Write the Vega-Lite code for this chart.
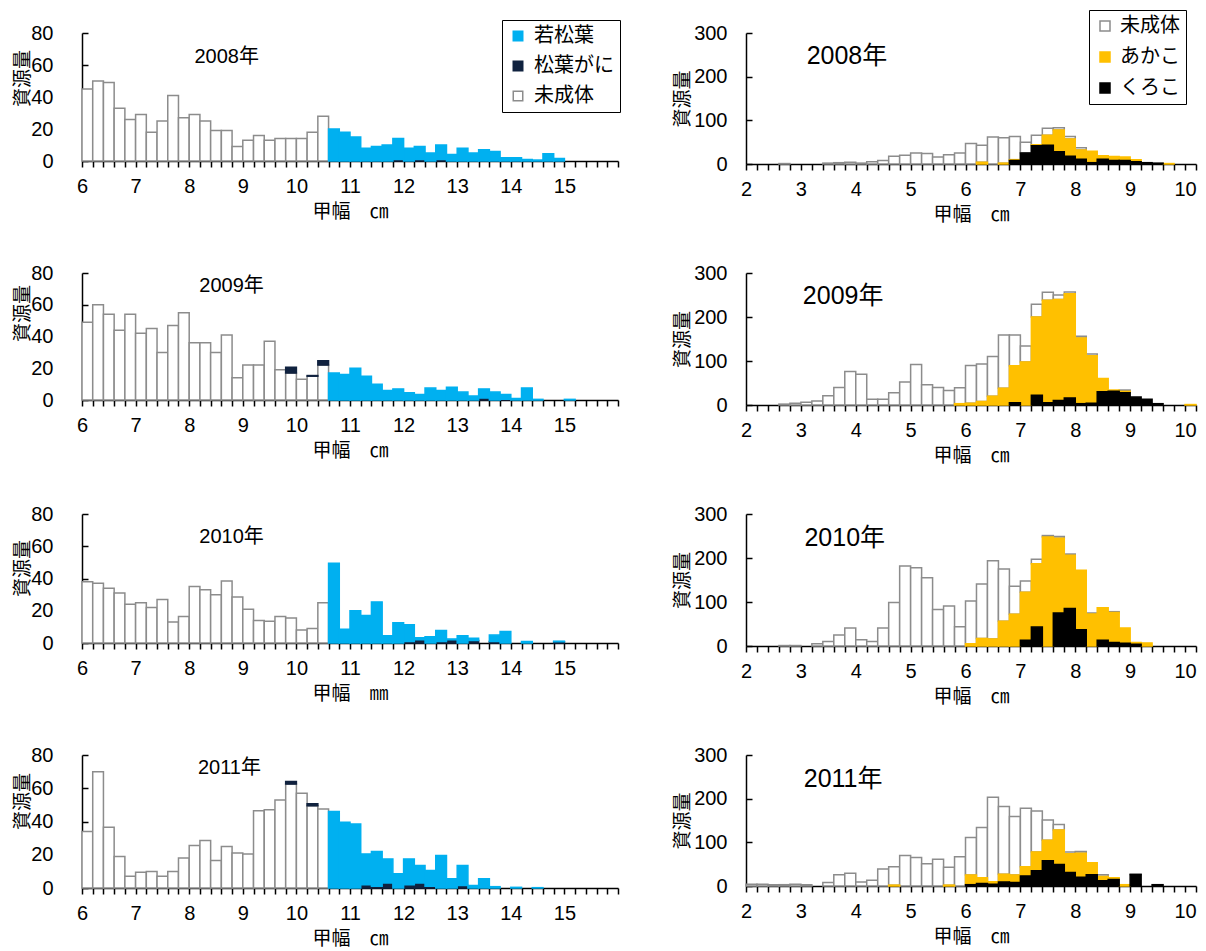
{
"$schema": "https://vega.github.io/schema/vega-lite/v6.json",
"padding": {"left": 13, "top": 9, "right": 5, "bottom": 5},
"background": "white",
"config": {
 "view": {"stroke": null},
 "axis": {"grid": false, "domainColor": "#000", "tickColor": "#000", "domainWidth": 1.5, "tickWidth": 1.5,
  "labelFont": "Liberation Sans, Arial, sans-serif", "labelFontSize": 20, "labelColor": "#000",
  "titleFont": "Noto Sans CJK JP", "titleFontSize": 19, "titleFontWeight": "normal", "titleColor": "#000"},
 "text": {"font": "Liberation Sans, Noto Sans CJK JP, sans-serif", "color": "#000"}
},
"data": {"values": [
{"p":"L8","c":"未成体","x":6,"v":45},{"p":"L8","c":"未成体","x":6.2,"v":50},{"p":"L8","c":"未成体","x":6.4,"v":49},{"p":"L8","c":"未成体","x":6.6,"v":33},{"p":"L8","c":"未成体","x":6.8,"v":26},{"p":"L8","c":"未成体","x":7,"v":29},{"p":"L8","c":"未成体","x":7.2,"v":18},{"p":"L8","c":"未成体","x":7.4,"v":25},{"p":"L8","c":"未成体","x":7.6,"v":41},{"p":"L8","c":"未成体","x":7.8,"v":27},{"p":"L8","c":"未成体","x":8,"v":29},{"p":"L8","c":"未成体","x":8.2,"v":25},{"p":"L8","c":"未成体","x":8.4,"v":19},{"p":"L8","c":"未成体","x":8.6,"v":19},{"p":"L8","c":"未成体","x":8.8,"v":9},{"p":"L8","c":"未成体","x":9,"v":13},{"p":"L8","c":"未成体","x":9.2,"v":16},{"p":"L8","c":"未成体","x":9.4,"v":13},{"p":"L8","c":"未成体","x":9.6,"v":14},{"p":"L8","c":"未成体","x":9.8,"v":14},{"p":"L8","c":"未成体","x":10,"v":14},{"p":"L8","c":"未成体","x":10.2,"v":18},{"p":"L8","c":"未成体","x":10.4,"v":28},
{"p":"L8","c":"松葉がに","x":11.8,"v":1},{"p":"L8","c":"松葉がに","x":12.2,"v":1},{"p":"L8","c":"松葉がに","x":12.6,"v":1},
{"p":"L8","c":"若松葉","x":10.6,"v":20},{"p":"L8","c":"若松葉","x":10.8,"v":18},{"p":"L8","c":"若松葉","x":11,"v":15},{"p":"L8","c":"若松葉","x":11.2,"v":8},{"p":"L8","c":"若松葉","x":11.4,"v":9},{"p":"L8","c":"若松葉","x":11.6,"v":10},{"p":"L8","c":"若松葉","x":11.8,"v":13},{"p":"L8","c":"若松葉","x":12,"v":8},{"p":"L8","c":"若松葉","x":12.2,"v":8},{"p":"L8","c":"若松葉","x":12.4,"v":5},{"p":"L8","c":"若松葉","x":12.6,"v":9},{"p":"L8","c":"若松葉","x":12.8,"v":4},{"p":"L8","c":"若松葉","x":13,"v":8},{"p":"L8","c":"若松葉","x":13.2,"v":5},{"p":"L8","c":"若松葉","x":13.4,"v":7},{"p":"L8","c":"若松葉","x":13.6,"v":6},{"p":"L8","c":"若松葉","x":13.8,"v":2},{"p":"L8","c":"若松葉","x":14,"v":2},{"p":"L8","c":"若松葉","x":14.2,"v":1},{"p":"L8","c":"若松葉","x":14.4,"v":0.6},{"p":"L8","c":"若松葉","x":14.6,"v":4.5},{"p":"L8","c":"若松葉","x":14.8,"v":1.6},
{"p":"L9","c":"未成体","x":6,"v":49},{"p":"L9","c":"未成体","x":6.2,"v":60},{"p":"L9","c":"未成体","x":6.4,"v":54},{"p":"L9","c":"未成体","x":6.6,"v":44},{"p":"L9","c":"未成体","x":6.8,"v":54},{"p":"L9","c":"未成体","x":7,"v":42},{"p":"L9","c":"未成体","x":7.2,"v":45},{"p":"L9","c":"未成体","x":7.4,"v":30},{"p":"L9","c":"未成体","x":7.6,"v":47},{"p":"L9","c":"未成体","x":7.8,"v":55},{"p":"L9","c":"未成体","x":8,"v":36},{"p":"L9","c":"未成体","x":8.2,"v":36},{"p":"L9","c":"未成体","x":8.4,"v":30},{"p":"L9","c":"未成体","x":8.6,"v":41},{"p":"L9","c":"未成体","x":8.8,"v":14},{"p":"L9","c":"未成体","x":9,"v":22},{"p":"L9","c":"未成体","x":9.2,"v":22},{"p":"L9","c":"未成体","x":9.4,"v":37},{"p":"L9","c":"未成体","x":9.6,"v":19},{"p":"L9","c":"未成体","x":9.8,"v":17},{"p":"L9","c":"未成体","x":10,"v":13},{"p":"L9","c":"未成体","x":10.2,"v":15},{"p":"L9","c":"未成体","x":10.4,"v":22},
{"p":"L9","c":"松葉がに","x":9.8,"v":3.7},{"p":"L9","c":"松葉がに","x":10.2,"v":0.4},{"p":"L9","c":"松葉がに","x":10.4,"v":2.7},{"p":"L9","c":"松葉がに","x":13.4,"v":1.2},{"p":"L9","c":"松葉がに","x":13.8,"v":0.5},
{"p":"L9","c":"若松葉","x":10.6,"v":17},{"p":"L9","c":"若松葉","x":10.8,"v":16},{"p":"L9","c":"若松葉","x":11,"v":20},{"p":"L9","c":"若松葉","x":11.2,"v":15},{"p":"L9","c":"若松葉","x":11.4,"v":10},{"p":"L9","c":"若松葉","x":11.6,"v":6},{"p":"L9","c":"若松葉","x":11.8,"v":7},{"p":"L9","c":"若松葉","x":12,"v":4.5},{"p":"L9","c":"若松葉","x":12.2,"v":3.5},{"p":"L9","c":"若松葉","x":12.4,"v":7.5},{"p":"L9","c":"若松葉","x":12.6,"v":6},{"p":"L9","c":"若松葉","x":12.8,"v":8},{"p":"L9","c":"若松葉","x":13,"v":5},{"p":"L9","c":"若松葉","x":13.2,"v":2.5},{"p":"L9","c":"若松葉","x":13.4,"v":5.8},{"p":"L9","c":"若松葉","x":13.6,"v":5},{"p":"L9","c":"若松葉","x":13.8,"v":3},{"p":"L9","c":"若松葉","x":14,"v":1},{"p":"L9","c":"若松葉","x":14.2,"v":7.6},{"p":"L9","c":"若松葉","x":14.4,"v":0.4},{"p":"L9","c":"若松葉","x":15,"v":0.4},
{"p":"L10","c":"未成体","x":6,"v":38},{"p":"L10","c":"未成体","x":6.2,"v":37},{"p":"L10","c":"未成体","x":6.4,"v":34},{"p":"L10","c":"未成体","x":6.6,"v":31},{"p":"L10","c":"未成体","x":6.8,"v":24},{"p":"L10","c":"未成体","x":7,"v":25},{"p":"L10","c":"未成体","x":7.2,"v":22},{"p":"L10","c":"未成体","x":7.4,"v":27},{"p":"L10","c":"未成体","x":7.6,"v":13},{"p":"L10","c":"未成体","x":7.8,"v":16.5},{"p":"L10","c":"未成体","x":8,"v":35},{"p":"L10","c":"未成体","x":8.2,"v":33},{"p":"L10","c":"未成体","x":8.4,"v":30},{"p":"L10","c":"未成体","x":8.6,"v":38.5},{"p":"L10","c":"未成体","x":8.8,"v":28.5},{"p":"L10","c":"未成体","x":9,"v":21},{"p":"L10","c":"未成体","x":9.2,"v":14},{"p":"L10","c":"未成体","x":9.4,"v":13.5},{"p":"L10","c":"未成体","x":9.6,"v":16.5},{"p":"L10","c":"未成体","x":9.8,"v":15.5},{"p":"L10","c":"未成体","x":10,"v":8},{"p":"L10","c":"未成体","x":10.2,"v":9},{"p":"L10","c":"未成体","x":10.4,"v":25},
{"p":"L10","c":"松葉がに","x":12,"v":1},{"p":"L10","c":"松葉がに","x":12.2,"v":2},{"p":"L10","c":"松葉がに","x":12.6,"v":1},{"p":"L10","c":"松葉がに","x":12.8,"v":2},{"p":"L10","c":"松葉がに","x":13.2,"v":1.5},{"p":"L10","c":"松葉がに","x":13.6,"v":1},{"p":"L10","c":"松葉がに","x":14.8,"v":0.8},
{"p":"L10","c":"若松葉","x":10.6,"v":49.5},{"p":"L10","c":"若松葉","x":10.8,"v":8.5},{"p":"L10","c":"若松葉","x":11,"v":20},{"p":"L10","c":"若松葉","x":11.2,"v":17},{"p":"L10","c":"若松葉","x":11.4,"v":25.5},{"p":"L10","c":"若松葉","x":11.6,"v":4.5},{"p":"L10","c":"若松葉","x":11.8,"v":12.5},{"p":"L10","c":"若松葉","x":12,"v":10.3},{"p":"L10","c":"若松葉","x":12.2,"v":1.3},{"p":"L10","c":"若松葉","x":12.4,"v":3.9},{"p":"L10","c":"若松葉","x":12.6,"v":6.8},{"p":"L10","c":"若松葉","x":12.8,"v":0.5},{"p":"L10","c":"若松葉","x":13,"v":4.5},{"p":"L10","c":"若松葉","x":13.2,"v":1.4},{"p":"L10","c":"若松葉","x":13.6,"v":3.9},{"p":"L10","c":"若松葉","x":13.8,"v":7.2},{"p":"L10","c":"若松葉","x":14.2,"v":1},{"p":"L10","c":"若松葉","x":14.8,"v":0.3},
{"p":"L11","c":"未成体","x":6,"v":34},{"p":"L11","c":"未成体","x":6.2,"v":70},{"p":"L11","c":"未成体","x":6.4,"v":36.5},{"p":"L11","c":"未成体","x":6.6,"v":19},{"p":"L11","c":"未成体","x":6.8,"v":7},{"p":"L11","c":"未成体","x":7,"v":9.5},{"p":"L11","c":"未成体","x":7.2,"v":10},{"p":"L11","c":"未成体","x":7.4,"v":7},{"p":"L11","c":"未成体","x":7.6,"v":10},{"p":"L11","c":"未成体","x":7.8,"v":18},{"p":"L11","c":"未成体","x":8,"v":25.5},{"p":"L11","c":"未成体","x":8.2,"v":28.5},{"p":"L11","c":"未成体","x":8.4,"v":16.5},{"p":"L11","c":"未成体","x":8.6,"v":25},{"p":"L11","c":"未成体","x":8.8,"v":21},{"p":"L11","c":"未成体","x":9,"v":20.5},{"p":"L11","c":"未成体","x":9.2,"v":46.5},{"p":"L11","c":"未成体","x":9.4,"v":47},{"p":"L11","c":"未成体","x":9.6,"v":53},{"p":"L11","c":"未成体","x":9.8,"v":62.5},{"p":"L11","c":"未成体","x":10,"v":57},{"p":"L11","c":"未成体","x":10.2,"v":49.5},{"p":"L11","c":"未成体","x":10.4,"v":47.5},
{"p":"L11","c":"松葉がに","x":9.8,"v":1.5},{"p":"L11","c":"松葉がに","x":10.2,"v":1.2},{"p":"L11","c":"松葉がに","x":11.2,"v":2},{"p":"L11","c":"松葉がに","x":11.4,"v":1},{"p":"L11","c":"松葉がに","x":11.6,"v":3},{"p":"L11","c":"松葉がに","x":12,"v":2},{"p":"L11","c":"松葉がに","x":12.2,"v":3},{"p":"L11","c":"松葉がに","x":12.4,"v":1},{"p":"L11","c":"松葉がに","x":13,"v":1.5},
{"p":"L11","c":"若松葉","x":10.6,"v":46},{"p":"L11","c":"若松葉","x":10.8,"v":39.5},{"p":"L11","c":"若松葉","x":11,"v":38.5},{"p":"L11","c":"若松葉","x":11.2,"v":18.5},{"p":"L11","c":"若松葉","x":11.4,"v":21},{"p":"L11","c":"若松葉","x":11.6,"v":14.5},{"p":"L11","c":"若松葉","x":11.8,"v":8.5},{"p":"L11","c":"若松葉","x":12,"v":15.5},{"p":"L11","c":"若松葉","x":12.2,"v":10.5},{"p":"L11","c":"若松葉","x":12.4,"v":9.5},{"p":"L11","c":"若松葉","x":12.6,"v":19.5},{"p":"L11","c":"若松葉","x":12.8,"v":5.5},{"p":"L11","c":"若松葉","x":13,"v":12},{"p":"L11","c":"若松葉","x":13.2,"v":1.5},{"p":"L11","c":"若松葉","x":13.4,"v":5.5},{"p":"L11","c":"若松葉","x":13.6,"v":0.8},{"p":"L11","c":"若松葉","x":14,"v":0.4},{"p":"L11","c":"若松葉","x":14.4,"v":0.2},
{"p":"R8","c":"未成体","x":2.6,"v":1},{"p":"R8","c":"未成体","x":3.4,"v":2},{"p":"R8","c":"未成体","x":3.6,"v":3},{"p":"R8","c":"未成体","x":3.8,"v":4},{"p":"R8","c":"未成体","x":4,"v":2},{"p":"R8","c":"未成体","x":4.2,"v":5},{"p":"R8","c":"未成体","x":4.4,"v":8},{"p":"R8","c":"未成体","x":4.6,"v":18},{"p":"R8","c":"未成体","x":4.8,"v":20},{"p":"R8","c":"未成体","x":5,"v":25},{"p":"R8","c":"未成体","x":5.2,"v":24},{"p":"R8","c":"未成体","x":5.4,"v":16},{"p":"R8","c":"未成体","x":5.6,"v":21},{"p":"R8","c":"未成体","x":5.8,"v":25},{"p":"R8","c":"未成体","x":6,"v":47},{"p":"R8","c":"未成体","x":6.2,"v":39},{"p":"R8","c":"未成体","x":6.4,"v":62},{"p":"R8","c":"未成体","x":6.6,"v":58},{"p":"R8","c":"未成体","x":6.8,"v":53},{"p":"R8","c":"未成体","x":7,"v":25},{"p":"R8","c":"未成体","x":7.2,"v":22},{"p":"R8","c":"未成体","x":7.4,"v":16},{"p":"R8","c":"未成体","x":7.6,"v":5},{"p":"R8","c":"未成体","x":7.8,"v":6},{"p":"R8","c":"未成体","x":8,"v":5},
{"p":"R8","c":"あかこ","x":6.2,"v":4},{"p":"R8","c":"あかこ","x":6.6,"v":2},{"p":"R8","c":"あかこ","x":6.8,"v":2},{"p":"R8","c":"あかこ","x":7.2,"v":2},{"p":"R8","c":"あかこ","x":7.4,"v":23},{"p":"R8","c":"あかこ","x":7.6,"v":50},{"p":"R8","c":"あかこ","x":7.8,"v":39},{"p":"R8","c":"あかこ","x":8,"v":21},{"p":"R8","c":"あかこ","x":8.2,"v":26},{"p":"R8","c":"あかこ","x":8.4,"v":8},{"p":"R8","c":"あかこ","x":8.6,"v":9},{"p":"R8","c":"あかこ","x":8.8,"v":8},{"p":"R8","c":"あかこ","x":9,"v":5},{"p":"R8","c":"あかこ","x":9.6,"v":1},
{"p":"R8","c":"くろこ","x":6.8,"v":8},{"p":"R8","c":"くろこ","x":7,"v":25},{"p":"R8","c":"くろこ","x":7.2,"v":42},{"p":"R8","c":"くろこ","x":7.4,"v":43},{"p":"R8","c":"くろこ","x":7.6,"v":28},{"p":"R8","c":"くろこ","x":7.8,"v":18},{"p":"R8","c":"くろこ","x":8,"v":11},{"p":"R8","c":"くろこ","x":8.2,"v":3},{"p":"R8","c":"くろこ","x":8.4,"v":11},{"p":"R8","c":"くろこ","x":8.6,"v":8},{"p":"R8","c":"くろこ","x":8.8,"v":8},{"p":"R8","c":"くろこ","x":9,"v":5},{"p":"R8","c":"くろこ","x":9.2,"v":3},{"p":"R8","c":"くろこ","x":9.4,"v":2},
{"p":"R9","c":"未成体","x":2.6,"v":2},{"p":"R9","c":"未成体","x":2.8,"v":4},{"p":"R9","c":"未成体","x":3,"v":6},{"p":"R9","c":"未成体","x":3.2,"v":9},{"p":"R9","c":"未成体","x":3.4,"v":21},{"p":"R9","c":"未成体","x":3.6,"v":40},{"p":"R9","c":"未成体","x":3.8,"v":76},{"p":"R9","c":"未成体","x":4,"v":70},{"p":"R9","c":"未成体","x":4.2,"v":13},{"p":"R9","c":"未成体","x":4.4,"v":13},{"p":"R9","c":"未成体","x":4.6,"v":28},{"p":"R9","c":"未成体","x":4.8,"v":52},{"p":"R9","c":"未成体","x":5,"v":92},{"p":"R9","c":"未成体","x":5.2,"v":46},{"p":"R9","c":"未成体","x":5.4,"v":40},{"p":"R9","c":"未成体","x":5.6,"v":33},{"p":"R9","c":"未成体","x":5.8,"v":36},{"p":"R9","c":"未成体","x":6,"v":86},{"p":"R9","c":"未成体","x":6.2,"v":85},{"p":"R9","c":"未成体","x":6.4,"v":90},{"p":"R9","c":"未成体","x":6.6,"v":121},{"p":"R9","c":"未成体","x":6.8,"v":70},{"p":"R9","c":"未成体","x":7,"v":36},{"p":"R9","c":"未成体","x":7.2,"v":29},{"p":"R9","c":"未成体","x":7.4,"v":18},{"p":"R9","c":"未成体","x":7.6,"v":10},{"p":"R9","c":"未成体","x":7.8,"v":4},{"p":"R9","c":"未成体","x":8,"v":4},{"p":"R9","c":"未成体","x":8.2,"v":4},{"p":"R9","c":"未成体","x":8.8,"v":3},
{"p":"R9","c":"あかこ","x":5.8,"v":3},{"p":"R9","c":"あかこ","x":6,"v":4},{"p":"R9","c":"あかこ","x":6.2,"v":8},{"p":"R9","c":"あかこ","x":6.4,"v":20},{"p":"R9","c":"あかこ","x":6.6,"v":38},{"p":"R9","c":"あかこ","x":6.8,"v":84},{"p":"R9","c":"あかこ","x":7,"v":98},{"p":"R9","c":"あかこ","x":7.2,"v":178},{"p":"R9","c":"あかこ","x":7.4,"v":233},{"p":"R9","c":"あかこ","x":7.6,"v":230},{"p":"R9","c":"あかこ","x":7.8,"v":237},{"p":"R9","c":"あかこ","x":8,"v":149},{"p":"R9","c":"あかこ","x":8.2,"v":108},{"p":"R9","c":"あかこ","x":8.4,"v":30},{"p":"R9","c":"あかこ","x":8.6,"v":3},{"p":"R9","c":"あかこ","x":8.8,"v":3},{"p":"R9","c":"あかこ","x":10,"v":1},
{"p":"R9","c":"くろこ","x":6.8,"v":5},{"p":"R9","c":"くろこ","x":7.2,"v":22},{"p":"R9","c":"くろこ","x":7.4,"v":5},{"p":"R9","c":"くろこ","x":7.6,"v":10},{"p":"R9","c":"くろこ","x":7.8,"v":16},{"p":"R9","c":"くろこ","x":8,"v":3},{"p":"R9","c":"くろこ","x":8.2,"v":4},{"p":"R9","c":"くろこ","x":8.4,"v":30},{"p":"R9","c":"くろこ","x":8.6,"v":31},{"p":"R9","c":"くろこ","x":8.8,"v":28},{"p":"R9","c":"くろこ","x":9,"v":18},{"p":"R9","c":"くろこ","x":9.2,"v":13},{"p":"R9","c":"くろこ","x":9.4,"v":3},
{"p":"R10","c":"未成体","x":2.6,"v":1},{"p":"R10","c":"未成体","x":2.8,"v":1},{"p":"R10","c":"未成体","x":3.2,"v":5},{"p":"R10","c":"未成体","x":3.4,"v":10},{"p":"R10","c":"未成体","x":3.6,"v":25},{"p":"R10","c":"未成体","x":3.8,"v":41},{"p":"R10","c":"未成体","x":4,"v":14},{"p":"R10","c":"未成体","x":4.2,"v":10},{"p":"R10","c":"未成体","x":4.4,"v":41},{"p":"R10","c":"未成体","x":4.6,"v":99},{"p":"R10","c":"未成体","x":4.8,"v":182},{"p":"R10","c":"未成体","x":5,"v":178},{"p":"R10","c":"未成体","x":5.2,"v":155},{"p":"R10","c":"未成体","x":5.4,"v":83},{"p":"R10","c":"未成体","x":5.6,"v":91},{"p":"R10","c":"未成体","x":5.8,"v":44},{"p":"R10","c":"未成体","x":6,"v":97},{"p":"R10","c":"未成体","x":6.2,"v":124},{"p":"R10","c":"未成体","x":6.4,"v":178},{"p":"R10","c":"未成体","x":6.6,"v":119},{"p":"R10","c":"未成体","x":6.8,"v":64},{"p":"R10","c":"未成体","x":7,"v":26},{"p":"R10","c":"未成体","x":7.2,"v":10},{"p":"R10","c":"未成体","x":7.4,"v":3},{"p":"R10","c":"未成体","x":7.6,"v":4},{"p":"R10","c":"未成体","x":7.8,"v":3},{"p":"R10","c":"未成体","x":8.2,"v":2},{"p":"R10","c":"未成体","x":8.6,"v":2},
{"p":"R10","c":"あかこ","x":6,"v":5},{"p":"R10","c":"あかこ","x":6.2,"v":17},{"p":"R10","c":"あかこ","x":6.4,"v":16},{"p":"R10","c":"あかこ","x":6.6,"v":56},{"p":"R10","c":"あかこ","x":6.8,"v":72},{"p":"R10","c":"あかこ","x":7,"v":109},{"p":"R10","c":"あかこ","x":7.2,"v":144},{"p":"R10","c":"あかこ","x":7.4,"v":248},{"p":"R10","c":"あかこ","x":7.6,"v":170},{"p":"R10","c":"あかこ","x":7.8,"v":121},{"p":"R10","c":"あかこ","x":8,"v":135},{"p":"R10","c":"あかこ","x":8.2,"v":73},{"p":"R10","c":"あかこ","x":8.4,"v":74},{"p":"R10","c":"あかこ","x":8.6,"v":68},{"p":"R10","c":"あかこ","x":8.8,"v":35},{"p":"R10","c":"あかこ","x":9,"v":4},{"p":"R10","c":"あかこ","x":9.2,"v":7},
{"p":"R10","c":"くろこ","x":7,"v":13},{"p":"R10","c":"くろこ","x":7.2,"v":43},{"p":"R10","c":"くろこ","x":7.6,"v":75},{"p":"R10","c":"くろこ","x":7.8,"v":85},{"p":"R10","c":"くろこ","x":8,"v":37},{"p":"R10","c":"くろこ","x":8.4,"v":13},{"p":"R10","c":"くろこ","x":8.6,"v":8},{"p":"R10","c":"くろこ","x":8.8,"v":6},{"p":"R10","c":"くろこ","x":9,"v":4},
{"p":"R11","c":"未成体","x":2,"v":4},{"p":"R11","c":"未成体","x":2.2,"v":4},{"p":"R11","c":"未成体","x":2.4,"v":3},{"p":"R11","c":"未成体","x":2.6,"v":3},{"p":"R11","c":"未成体","x":2.8,"v":4},{"p":"R11","c":"未成体","x":3,"v":3},{"p":"R11","c":"未成体","x":3.4,"v":8},{"p":"R11","c":"未成体","x":3.6,"v":26},{"p":"R11","c":"未成体","x":3.8,"v":29},{"p":"R11","c":"未成体","x":4,"v":9},{"p":"R11","c":"未成体","x":4.2,"v":13},{"p":"R11","c":"未成体","x":4.4,"v":39},{"p":"R11","c":"未成体","x":4.6,"v":42},{"p":"R11","c":"未成体","x":4.8,"v":70},{"p":"R11","c":"未成体","x":5,"v":65},{"p":"R11","c":"未成体","x":5.2,"v":51},{"p":"R11","c":"未成体","x":5.4,"v":61},{"p":"R11","c":"未成体","x":5.6,"v":41},{"p":"R11","c":"未成体","x":5.8,"v":67},{"p":"R11","c":"未成体","x":6,"v":86},{"p":"R11","c":"未成体","x":6.2,"v":115},{"p":"R11","c":"未成体","x":6.4,"v":193},{"p":"R11","c":"未成体","x":6.6,"v":155},{"p":"R11","c":"未成体","x":6.8,"v":134},{"p":"R11","c":"未成体","x":7,"v":134},{"p":"R11","c":"未成体","x":7.2,"v":94},{"p":"R11","c":"未成体","x":7.4,"v":46},{"p":"R11","c":"未成体","x":7.6,"v":13},{"p":"R11","c":"未成体","x":7.8,"v":4},{"p":"R11","c":"未成体","x":8,"v":4},{"p":"R11","c":"未成体","x":8.4,"v":4},{"p":"R11","c":"未成体","x":9,"v":2},
{"p":"R11","c":"あかこ","x":4.6,"v":2},{"p":"R11","c":"あかこ","x":5.6,"v":2},{"p":"R11","c":"あかこ","x":6,"v":22},{"p":"R11","c":"あかこ","x":6.2,"v":13},{"p":"R11","c":"あかこ","x":6.4,"v":6},{"p":"R11","c":"あかこ","x":6.6,"v":18},{"p":"R11","c":"あかこ","x":6.8,"v":17},{"p":"R11","c":"あかこ","x":7,"v":21},{"p":"R11","c":"あかこ","x":7.2,"v":43},{"p":"R11","c":"あかこ","x":7.4,"v":47},{"p":"R11","c":"あかこ","x":7.6,"v":79},{"p":"R11","c":"あかこ","x":7.8,"v":43},{"p":"R11","c":"あかこ","x":8,"v":55},{"p":"R11","c":"あかこ","x":8.2,"v":27},{"p":"R11","c":"あかこ","x":8.4,"v":10},{"p":"R11","c":"あかこ","x":8.6,"v":4},{"p":"R11","c":"あかこ","x":8.8,"v":3},
{"p":"R11","c":"くろこ","x":6,"v":3},{"p":"R11","c":"くろこ","x":6.2,"v":6},{"p":"R11","c":"くろこ","x":6.4,"v":4},{"p":"R11","c":"くろこ","x":6.6,"v":9},{"p":"R11","c":"くろこ","x":6.8,"v":8},{"p":"R11","c":"くろこ","x":7,"v":23},{"p":"R11","c":"くろこ","x":7.2,"v":35},{"p":"R11","c":"くろこ","x":7.4,"v":58},{"p":"R11","c":"くろこ","x":7.6,"v":49},{"p":"R11","c":"くろこ","x":7.8,"v":31},{"p":"R11","c":"くろこ","x":8,"v":20},{"p":"R11","c":"くろこ","x":8.2,"v":26},{"p":"R11","c":"くろこ","x":8.4,"v":12},{"p":"R11","c":"くろこ","x":8.6,"v":15},{"p":"R11","c":"くろこ","x":9,"v":26},{"p":"R11","c":"くろこ","x":9.4,"v":3}
]},
"columns": 2,
"spacing": {"row": 109, "column": 128},
"bounds": "flush",
"resolve": {"scale": {"x": "independent", "y": "independent", "fill": "independent", "stroke": "independent"}},
"concat": [
{"width": 536, "height": 128,
 "encoding": {
  "x": {"type": "quantitative", "scale": {"domain": [6, 16], "nice": false, "zero": false}, "axis": {"values": [6,6.2,6.4,6.6,6.8,7,7.2,7.4,7.6,7.8,8,8.2,8.4,8.6,8.8,9,9.2,9.4,9.6,9.8,10,10.2,10.4,10.6,10.8,11,11.2,11.4,11.6,11.8,12,12.2,12.4,12.6,12.8,13,13.2,13.4,13.6,13.8,14,14.2,14.4,14.6,14.8,15,15.2,15.4,15.6,15.8,16], "labelExpr": "abs(datum.value - round(datum.value)) < 0.01 && datum.value < 15.5 ? format(datum.value, 'd') : ''", "labelDx": 5.36, "labelOverlap": false, "labelFlush": false, "labelBound": false, "tickSize": 6, "labelPadding": 9, "title": "甲幅　㎝", "titlePadding": 6}},
  "y": {"type": "quantitative", "scale": {"domain": [0, 80], "nice": false}, "axis": {"values": [0,20,40,60,80], "labelOverlap": false, "tickSize": -6, "labelPadding": 35, "title": "資源量", "titlePadding": -2, "titleY": 45}}
 },
 "layer": [
 {"transform": [{"filter": "datum.p === 'L8'"}, {"calculate": "indexof(['未成体','松葉がに','若松葉'], datum.c)", "as": "o"}, {"stack": "v", "groupby": ["x"], "sort": [{"field": "o", "order": "ascending"}], "as": ["y0", "y1"]}, {"calculate": "datum.x + 0.2", "as": "xe"}],
  "mark": {"type": "rect", "strokeWidth": 1.5},
  "encoding": {
   "x": {"field": "x"}, "x2": {"field": "xe"}, "y": {"field": "y1"}, "y2": {"field": "y0"},
   "fill": {"field": "c", "type": "nominal", "scale": {"domain": ["若松葉","松葉がに","未成体"], "range": ["#00B0F0","#10223F","#FFFFFF"]}, "legend": {"title": null, "orient": "none", "legendX": 420, "legendY": -13, "strokeColor": "#000", "fillColor": "#fff", "padding": 6, "symbolType": "square", "symbolSize": 90, "symbolStrokeWidth": 1.5, "labelFont": "Noto Sans CJK JP", "labelFontSize": 20, "labelColor": "#000", "rowPadding": 10, "labelOffset": 6, "labelLimit": 300}},
   "stroke": {"field": "c", "type": "nominal", "scale": {"domain": ["若松葉","松葉がに","未成体"], "range": ["#00B0F0","#10223F","#8C8C8C"]}, "legend": {"title": null, "orient": "none", "legendX": 420, "legendY": -13, "strokeColor": "#000", "fillColor": "#fff", "padding": 6, "symbolType": "square", "symbolSize": 90, "symbolStrokeWidth": 1.5, "labelFont": "Noto Sans CJK JP", "labelFontSize": 20, "labelColor": "#000", "rowPadding": 10, "labelOffset": 6, "labelLimit": 300}}
  }},
 {"data": {"values": [{"t": "2008年", "px": 8.7, "py": 65}]}, "mark": {"type": "text", "fontSize": 20}, "encoding": {"text": {"field": "t"}, "x": {"field": "px"}, "y": {"field": "py"}}}
]},
{"width": 450, "height": 131,
 "encoding": {
  "x": {"type": "quantitative", "scale": {"domain": [2, 10.2], "nice": false, "zero": false}, "axis": {"values": [2,2.2,2.4,2.6,2.8,3,3.2,3.4,3.6,3.8,4,4.2,4.4,4.6,4.8,5,5.2,5.4,5.6,5.8,6,6.2,6.4,6.6,6.8,7,7.2,7.4,7.6,7.8,8,8.2,8.4,8.6,8.8,9,9.2,9.4,9.6,9.8,10,10.2], "labelExpr": "abs(datum.value - round(datum.value)) < 0.01 && datum.value < 10.1 ? format(datum.value, 'd') : ''", "labelDx": 5.49, "labelOverlap": false, "labelFlush": false, "labelBound": false, "tickSize": 6, "labelPadding": 9, "title": "甲幅　㎝", "titlePadding": 6}},
  "y": {"type": "quantitative", "scale": {"domain": [0, 300], "nice": false}, "axis": {"values": [0,100,200,300], "labelOverlap": false, "tickSize": -6, "labelPadding": 25, "title": "資源量", "titlePadding": 1}}
 },
 "layer": [
 {"transform": [{"filter": "datum.p === 'R8'"}, {"calculate": "indexof(['くろこ','あかこ','未成体'], datum.c)", "as": "o"}, {"stack": "v", "groupby": ["x"], "sort": [{"field": "o", "order": "ascending"}], "as": ["y0", "y1"]}, {"calculate": "datum.x + 0.2", "as": "xe"}],
  "mark": {"type": "rect", "strokeWidth": 1.5},
  "encoding": {
   "x": {"field": "x"}, "x2": {"field": "xe"}, "y": {"field": "y1"}, "y2": {"field": "y0"},
   "fill": {"field": "c", "type": "nominal", "scale": {"domain": ["未成体","あかこ","くろこ"], "range": ["#FFFFFF","#FFC000","#000000"]}, "legend": {"title": null, "orient": "none", "legendX": 343, "legendY": -23, "strokeColor": "#000", "fillColor": "#fff", "padding": 6, "symbolType": "square", "symbolSize": 100, "symbolStrokeWidth": 1.5, "labelFont": "Noto Sans CJK JP", "labelFontSize": 20, "labelColor": "#000", "rowPadding": 11, "labelOffset": 5, "labelLimit": 300}},
   "stroke": {"field": "c", "type": "nominal", "scale": {"domain": ["未成体","あかこ","くろこ"], "range": ["#8C8C8C","#FFC000","#000000"]}, "legend": {"title": null, "orient": "none", "legendX": 343, "legendY": -23, "strokeColor": "#000", "fillColor": "#fff", "padding": 6, "symbolType": "square", "symbolSize": 100, "symbolStrokeWidth": 1.5, "labelFont": "Noto Sans CJK JP", "labelFontSize": 20, "labelColor": "#000", "rowPadding": 11, "labelOffset": 5, "labelLimit": 300}}
  }},
 {"data": {"values": [{"t": "2008年", "px": 3.84, "py": 247}]}, "mark": {"type": "text", "fontSize": 25}, "encoding": {"text": {"field": "t"}, "x": {"field": "px"}, "y": {"field": "py"}}}
]},
{"width": 536, "height": 127,
 "encoding": {
  "x": {"type": "quantitative", "scale": {"domain": [6, 16], "nice": false, "zero": false}, "axis": {"values": [6,6.2,6.4,6.6,6.8,7,7.2,7.4,7.6,7.8,8,8.2,8.4,8.6,8.8,9,9.2,9.4,9.6,9.8,10,10.2,10.4,10.6,10.8,11,11.2,11.4,11.6,11.8,12,12.2,12.4,12.6,12.8,13,13.2,13.4,13.6,13.8,14,14.2,14.4,14.6,14.8,15,15.2,15.4,15.6,15.8,16], "labelExpr": "abs(datum.value - round(datum.value)) < 0.01 && datum.value < 15.5 ? format(datum.value, 'd') : ''", "labelDx": 5.36, "labelOverlap": false, "labelFlush": false, "labelBound": false, "tickSize": 6, "labelPadding": 9, "title": "甲幅　㎝", "titlePadding": 6}},
  "y": {"type": "quantitative", "scale": {"domain": [0, 80], "nice": false}, "axis": {"values": [0,20,40,60,80], "labelOverlap": false, "tickSize": -6, "labelPadding": 35, "title": "資源量", "titlePadding": -2, "titleY": 40}}
 },
 "layer": [
 {"transform": [{"filter": "datum.p === 'L9'"}, {"calculate": "indexof(['未成体','松葉がに','若松葉'], datum.c)", "as": "o"}, {"stack": "v", "groupby": ["x"], "sort": [{"field": "o", "order": "ascending"}], "as": ["y0", "y1"]}, {"calculate": "datum.x + 0.2", "as": "xe"}],
  "mark": {"type": "rect", "strokeWidth": 1.5},
  "encoding": {
   "x": {"field": "x"}, "x2": {"field": "xe"}, "y": {"field": "y1"}, "y2": {"field": "y0"},
   "fill": {"field": "c", "type": "nominal", "scale": {"domain": ["若松葉","松葉がに","未成体"], "range": ["#00B0F0","#10223F","#FFFFFF"]}, "legend": null},
   "stroke": {"field": "c", "type": "nominal", "scale": {"domain": ["若松葉","松葉がに","未成体"], "range": ["#00B0F0","#10223F","#8C8C8C"]}, "legend": null}
  }},
 {"data": {"values": [{"t": "2009年", "px": 8.79, "py": 72}]}, "mark": {"type": "text", "fontSize": 20}, "encoding": {"text": {"field": "t"}, "x": {"field": "px"}, "y": {"field": "py"}}}
]},
{"width": 450, "height": 132,
 "encoding": {
  "x": {"type": "quantitative", "scale": {"domain": [2, 10.2], "nice": false, "zero": false}, "axis": {"values": [2,2.2,2.4,2.6,2.8,3,3.2,3.4,3.6,3.8,4,4.2,4.4,4.6,4.8,5,5.2,5.4,5.6,5.8,6,6.2,6.4,6.6,6.8,7,7.2,7.4,7.6,7.8,8,8.2,8.4,8.6,8.8,9,9.2,9.4,9.6,9.8,10,10.2], "labelExpr": "abs(datum.value - round(datum.value)) < 0.01 && datum.value < 10.1 ? format(datum.value, 'd') : ''", "labelDx": 5.49, "labelOverlap": false, "labelFlush": false, "labelBound": false, "tickSize": 6, "labelPadding": 9, "title": "甲幅　㎝", "titlePadding": 6}},
  "y": {"type": "quantitative", "scale": {"domain": [0, 300], "nice": false}, "axis": {"values": [0,100,200,300], "labelOverlap": false, "tickSize": -6, "labelPadding": 25, "title": "資源量", "titlePadding": 1}}
 },
 "layer": [
 {"transform": [{"filter": "datum.p === 'R9'"}, {"calculate": "indexof(['くろこ','あかこ','未成体'], datum.c)", "as": "o"}, {"stack": "v", "groupby": ["x"], "sort": [{"field": "o", "order": "ascending"}], "as": ["y0", "y1"]}, {"calculate": "datum.x + 0.2", "as": "xe"}],
  "mark": {"type": "rect", "strokeWidth": 1.5},
  "encoding": {
   "x": {"field": "x"}, "x2": {"field": "xe"}, "y": {"field": "y1"}, "y2": {"field": "y0"},
   "fill": {"field": "c", "type": "nominal", "scale": {"domain": ["未成体","あかこ","くろこ"], "range": ["#FFFFFF","#FFC000","#000000"]}, "legend": null},
   "stroke": {"field": "c", "type": "nominal", "scale": {"domain": ["未成体","あかこ","くろこ"], "range": ["#8C8C8C","#FFC000","#000000"]}, "legend": null}
  }},
 {"data": {"values": [{"t": "2009年", "px": 3.77, "py": 248}]}, "mark": {"type": "text", "fontSize": 25}, "encoding": {"text": {"field": "t"}, "x": {"field": "px"}, "y": {"field": "py"}}}
]},
{"width": 536, "height": 129,
 "encoding": {
  "x": {"type": "quantitative", "scale": {"domain": [6, 16], "nice": false, "zero": false}, "axis": {"values": [6,6.2,6.4,6.6,6.8,7,7.2,7.4,7.6,7.8,8,8.2,8.4,8.6,8.8,9,9.2,9.4,9.6,9.8,10,10.2,10.4,10.6,10.8,11,11.2,11.4,11.6,11.8,12,12.2,12.4,12.6,12.8,13,13.2,13.4,13.6,13.8,14,14.2,14.4,14.6,14.8,15,15.2,15.4,15.6,15.8,16], "labelExpr": "abs(datum.value - round(datum.value)) < 0.01 && datum.value < 15.5 ? format(datum.value, 'd') : ''", "labelDx": 5.36, "labelOverlap": false, "labelFlush": false, "labelBound": false, "tickSize": 6, "labelPadding": 9, "title": "甲幅　㎜", "titlePadding": 6}},
  "y": {"type": "quantitative", "scale": {"domain": [0, 80], "nice": false}, "axis": {"values": [0,20,40,60,80], "labelOverlap": false, "tickSize": -6, "labelPadding": 35, "title": "資源量", "titlePadding": -2, "titleY": 54}}
 },
 "layer": [
 {"transform": [{"filter": "datum.p === 'L10'"}, {"calculate": "indexof(['未成体','松葉がに','若松葉'], datum.c)", "as": "o"}, {"stack": "v", "groupby": ["x"], "sort": [{"field": "o", "order": "ascending"}], "as": ["y0", "y1"]}, {"calculate": "datum.x + 0.2", "as": "xe"}],
  "mark": {"type": "rect", "strokeWidth": 1.5},
  "encoding": {
   "x": {"field": "x"}, "x2": {"field": "xe"}, "y": {"field": "y1"}, "y2": {"field": "y0"},
   "fill": {"field": "c", "type": "nominal", "scale": {"domain": ["若松葉","松葉がに","未成体"], "range": ["#00B0F0","#10223F","#FFFFFF"]}, "legend": null},
   "stroke": {"field": "c", "type": "nominal", "scale": {"domain": ["若松葉","松葉がに","未成体"], "range": ["#00B0F0","#10223F","#8C8C8C"]}, "legend": null}
  }},
 {"data": {"values": [{"t": "2010年", "px": 8.79, "py": 66}]}, "mark": {"type": "text", "fontSize": 20}, "encoding": {"text": {"field": "t"}, "x": {"field": "px"}, "y": {"field": "py"}}}
]},
{"width": 450, "height": 132,
 "encoding": {
  "x": {"type": "quantitative", "scale": {"domain": [2, 10.2], "nice": false, "zero": false}, "axis": {"values": [2,2.2,2.4,2.6,2.8,3,3.2,3.4,3.6,3.8,4,4.2,4.4,4.6,4.8,5,5.2,5.4,5.6,5.8,6,6.2,6.4,6.6,6.8,7,7.2,7.4,7.6,7.8,8,8.2,8.4,8.6,8.8,9,9.2,9.4,9.6,9.8,10,10.2], "labelExpr": "abs(datum.value - round(datum.value)) < 0.01 && datum.value < 10.1 ? format(datum.value, 'd') : ''", "labelDx": 5.49, "labelOverlap": false, "labelFlush": false, "labelBound": false, "tickSize": 6, "labelPadding": 9, "title": "甲幅　㎝", "titlePadding": 6}},
  "y": {"type": "quantitative", "scale": {"domain": [0, 300], "nice": false}, "axis": {"values": [0,100,200,300], "labelOverlap": false, "tickSize": -6, "labelPadding": 25, "title": "資源量", "titlePadding": 1}}
 },
 "layer": [
 {"transform": [{"filter": "datum.p === 'R10'"}, {"calculate": "indexof(['くろこ','あかこ','未成体'], datum.c)", "as": "o"}, {"stack": "v", "groupby": ["x"], "sort": [{"field": "o", "order": "ascending"}], "as": ["y0", "y1"]}, {"calculate": "datum.x + 0.2", "as": "xe"}],
  "mark": {"type": "rect", "strokeWidth": 1.5},
  "encoding": {
   "x": {"field": "x"}, "x2": {"field": "xe"}, "y": {"field": "y1"}, "y2": {"field": "y0"},
   "fill": {"field": "c", "type": "nominal", "scale": {"domain": ["未成体","あかこ","くろこ"], "range": ["#FFFFFF","#FFC000","#000000"]}, "legend": null},
   "stroke": {"field": "c", "type": "nominal", "scale": {"domain": ["未成体","あかこ","くろこ"], "range": ["#8C8C8C","#FFC000","#000000"]}, "legend": null}
  }},
 {"data": {"values": [{"t": "2010年", "px": 3.8, "py": 245}]}, "mark": {"type": "text", "fontSize": 25}, "encoding": {"text": {"field": "t"}, "x": {"field": "px"}, "y": {"field": "py"}}}
]},
{"width": 536, "height": 133,
 "encoding": {
  "x": {"type": "quantitative", "scale": {"domain": [6, 16], "nice": false, "zero": false}, "axis": {"values": [6,6.2,6.4,6.6,6.8,7,7.2,7.4,7.6,7.8,8,8.2,8.4,8.6,8.8,9,9.2,9.4,9.6,9.8,10,10.2,10.4,10.6,10.8,11,11.2,11.4,11.6,11.8,12,12.2,12.4,12.6,12.8,13,13.2,13.4,13.6,13.8,14,14.2,14.4,14.6,14.8,15,15.2,15.4,15.6,15.8,16], "labelExpr": "abs(datum.value - round(datum.value)) < 0.01 && datum.value < 15.5 ? format(datum.value, 'd') : ''", "labelDx": 5.36, "labelOverlap": false, "labelFlush": false, "labelBound": false, "tickSize": 6, "labelPadding": 9, "title": "甲幅　㎝", "titlePadding": 6}},
  "y": {"type": "quantitative", "scale": {"domain": [0, 80], "nice": false}, "axis": {"values": [0,20,40,60,80], "labelOverlap": false, "tickSize": -6, "labelPadding": 35, "title": "資源量", "titlePadding": -2, "titleY": 46}}
 },
 "layer": [
 {"transform": [{"filter": "datum.p === 'L11'"}, {"calculate": "indexof(['未成体','松葉がに','若松葉'], datum.c)", "as": "o"}, {"stack": "v", "groupby": ["x"], "sort": [{"field": "o", "order": "ascending"}], "as": ["y0", "y1"]}, {"calculate": "datum.x + 0.2", "as": "xe"}],
  "mark": {"type": "rect", "strokeWidth": 1.5},
  "encoding": {
   "x": {"field": "x"}, "x2": {"field": "xe"}, "y": {"field": "y1"}, "y2": {"field": "y0"},
   "fill": {"field": "c", "type": "nominal", "scale": {"domain": ["若松葉","松葉がに","未成体"], "range": ["#00B0F0","#10223F","#FFFFFF"]}, "legend": null},
   "stroke": {"field": "c", "type": "nominal", "scale": {"domain": ["若松葉","松葉がに","未成体"], "range": ["#00B0F0","#10223F","#8C8C8C"]}, "legend": null}
  }},
 {"data": {"values": [{"t": "2011年", "px": 8.75, "py": 72}]}, "mark": {"type": "text", "fontSize": 20}, "encoding": {"text": {"field": "t"}, "x": {"field": "px"}, "y": {"field": "py"}}}
]},
{"width": 450, "height": 131,
 "encoding": {
  "x": {"type": "quantitative", "scale": {"domain": [2, 10.2], "nice": false, "zero": false}, "axis": {"values": [2,2.2,2.4,2.6,2.8,3,3.2,3.4,3.6,3.8,4,4.2,4.4,4.6,4.8,5,5.2,5.4,5.6,5.8,6,6.2,6.4,6.6,6.8,7,7.2,7.4,7.6,7.8,8,8.2,8.4,8.6,8.8,9,9.2,9.4,9.6,9.8,10,10.2], "labelExpr": "abs(datum.value - round(datum.value)) < 0.01 && datum.value < 10.1 ? format(datum.value, 'd') : ''", "labelDx": 5.49, "labelOverlap": false, "labelFlush": false, "labelBound": false, "tickSize": 6, "labelPadding": 9, "title": "甲幅　㎝", "titlePadding": 6}},
  "y": {"type": "quantitative", "scale": {"domain": [0, 300], "nice": false}, "axis": {"values": [0,100,200,300], "labelOverlap": false, "tickSize": -6, "labelPadding": 25, "title": "資源量", "titlePadding": 1}}
 },
 "layer": [
 {"transform": [{"filter": "datum.p === 'R11'"}, {"calculate": "indexof(['くろこ','あかこ','未成体'], datum.c)", "as": "o"}, {"stack": "v", "groupby": ["x"], "sort": [{"field": "o", "order": "ascending"}], "as": ["y0", "y1"]}, {"calculate": "datum.x + 0.2", "as": "xe"}],
  "mark": {"type": "rect", "strokeWidth": 1.5},
  "encoding": {
   "x": {"field": "x"}, "x2": {"field": "xe"}, "y": {"field": "y1"}, "y2": {"field": "y0"},
   "fill": {"field": "c", "type": "nominal", "scale": {"domain": ["未成体","あかこ","くろこ"], "range": ["#FFFFFF","#FFC000","#000000"]}, "legend": null},
   "stroke": {"field": "c", "type": "nominal", "scale": {"domain": ["未成体","あかこ","くろこ"], "range": ["#8C8C8C","#FFC000","#000000"]}, "legend": null}
  }},
 {"data": {"values": [{"t": "2011年", "px": 3.77, "py": 245}]}, "mark": {"type": "text", "fontSize": 25}, "encoding": {"text": {"field": "t"}, "x": {"field": "px"}, "y": {"field": "py"}}}
]}
]
}
